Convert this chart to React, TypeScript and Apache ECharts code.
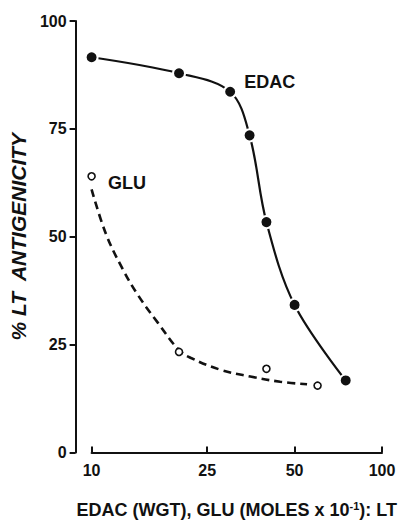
import React, { useEffect, useRef } from "react";
import * as echarts from "echarts";

// EDAC (filled circles, solid curve)
const edacX = [10, 20, 30, 35, 40, 50, 75];
const edacY = [91.6, 87.9, 83.6, 73.5, 53.4, 34.2, 16.7];

// GLU measured points (open circles)
const gluX = [10, 20, 40, 60];
const gluY = [64, 23.3, 19.4, 15.5];

// GLU fitted dashed curve
const gluCurveX = [10, 11.2, 12.8, 14.5, 16.9, 20, 22, 27.7, 35.2, 44.6, 55.2];
const gluCurveY = [61, 50.7, 42.5, 36.3, 30.1, 23.7, 21.9, 19.2, 17.6, 16.4, 15.8];

const xTicks = [10, 25, 50, 100];

const FONT = "Liberation Sans";
const INK = "#111";

export default function App() {
  const ref = useRef<HTMLDivElement>(null);
  useEffect(() => {
    if (!ref.current) return;
    const chart = echarts.init(ref.current, null, { renderer: "svg" });
    const edacData = edacX.map((x, i) => {
      const item: any = { value: [x, edacY[i]] };
      if (i === 2) {
        item.label = {
          show: true,
          formatter: "EDAC",
          position: "right",
          distance: 8,
          offset: [-1, -10],
          fontFamily: FONT,
          fontWeight: "bold",
          fontSize: 18,
          color: INK,
        };
      }
      return item;
    });
    const gluData = gluX.map((x, i) => {
      const item: any = { value: [x, gluY[i]] };
      if (i === 0) {
        item.label = {
          show: true,
          formatter: "GLU",
          position: "right",
          distance: 12,
          offset: [0, 7],
          fontFamily: FONT,
          fontWeight: "bold",
          fontSize: 18,
          color: INK,
        };
      }
      return item;
    });
    chart.setOption({
      animation: false,
      backgroundColor: "#fff",
      grid: { left: 89, right: 19, top: 21, bottom: 65, containLabel: false },
      xAxis: {
        type: "log",
        logBase: 10,
        min: 10,
        max: 100,
        axisLine: { lineStyle: { color: INK, width: 2 } },
        axisTick: {
          show: true,
          inside: true,
          length: 6,
          customValues: xTicks,
          lineStyle: { color: INK, width: 2 },
        },
        axisLabel: {
          customValues: xTicks,
          formatter: (v: number) => String(Math.round(v)),
          margin: 10,
          fontFamily: FONT,
          fontWeight: "bold",
          fontSize: 16,
          color: INK,
        },
        splitLine: { show: false },
        minorTick: { show: false },
        name: "EDAC (WGT), GLU (MOLES x 10{sup|-1}): LT",
        nameLocation: "middle",
        nameGap: 48,
        nameTextStyle: {
          fontFamily: FONT,
          fontWeight: "bold",
          fontSize: 18,
          color: INK,
          rich: {
            sup: {
              fontFamily: FONT,
              fontWeight: "bold",
              fontSize: 11,
              color: INK,
              verticalAlign: "top",
              padding: [0, 0, 8, 0],
            },
          },
        },
      },
      yAxis: {
        type: "value",
        min: 0,
        max: 100,
        interval: 25,
        offset: 16,
        axisLine: { show: true, lineStyle: { color: INK, width: 2 } },
        axisTick: { show: true, length: 6, lineStyle: { color: INK, width: 2 } },
        axisLabel: {
          margin: 9,
          fontFamily: FONT,
          fontWeight: "bold",
          fontSize: 16,
          color: INK,
        },
        splitLine: { show: false },
        name: "% LT  ANTIGENICITY",
        nameLocation: "middle",
        nameGap: 42,
        nameTextStyle: {
          fontFamily: FONT,
          fontWeight: "bold",
          fontStyle: "italic",
          fontSize: 21,
          color: INK,
        },
      },
      series: [
        {
          type: "line",
          name: "EDAC",
          data: edacData,
          smooth: 0.35,
          clip: false,
          symbol: "circle",
          symbolSize: 12,
          itemStyle: { color: INK, borderColor: "#fff", borderWidth: 2 },
          lineStyle: { color: INK, width: 2.2 },
          z: 3,
        },
        {
          type: "line",
          name: "GLU curve",
          data: gluCurveX.map((x, i) => [x, gluCurveY[i]]),
          smooth: 0.4,
          clip: false,
          showSymbol: false,
          symbol: "none",
          lineStyle: { color: INK, width: 2.6, type: [8, 5] },
          z: 2,
        },
        {
          type: "scatter",
          name: "GLU",
          data: gluData,
          clip: false,
          symbol: "circle",
          symbolSize: 7,
          itemStyle: { color: "#fff", borderColor: INK, borderWidth: 1.6, opacity: 1 },
          z: 4,
        },
      ],
    });
    return () => chart.dispose();
  }, []);
  return <div ref={ref} style={{ width: 401, height: 524, position: "absolute", left: 0, top: 0 }} />;
}
